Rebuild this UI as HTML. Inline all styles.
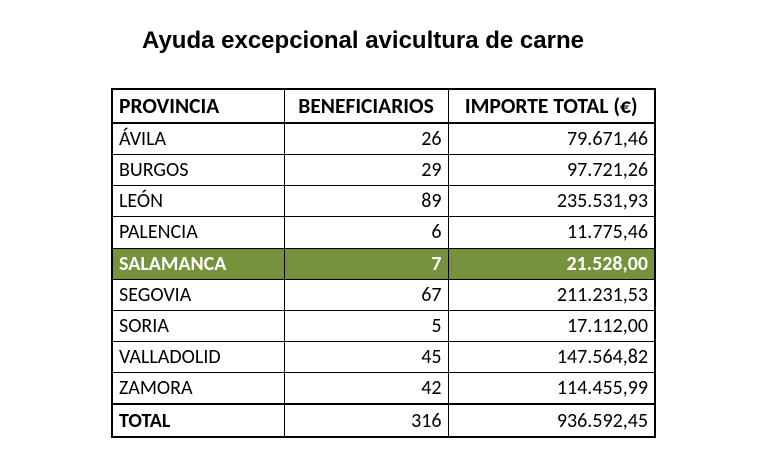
<!DOCTYPE html>
<html><head><style>
body{margin:0;width:784px;height:476px;background:#fff;position:relative;overflow:hidden;font-family:"Liberation Sans",Arial,sans-serif}
.t{position:absolute;left:0;width:726px;top:27px;text-align:center;font-weight:bold;font-size:24px;color:#000}
table{position:absolute;left:111px;top:88px;border-collapse:collapse;font-family:Carlito,Calibri,"Liberation Sans",sans-serif;font-size:20px;color:#000}
td{border:1px solid #000;padding:0 6px;height:30px;box-sizing:border-box;line-height:30px;white-space:nowrap}
td:nth-child(1){width:172px}
td:nth-child(2){width:164px;text-align:right}
td:nth-child(3){width:207px;text-align:right}
tr.h td{font-weight:bold;font-size:21.5px;height:34px;text-align:center;border-top:2px solid #000;border-bottom:2px solid #000;padding:0 4px}
tr.h td:nth-child(1){text-align:left;padding-left:6px}
tr.r td{height:31.2px}
tr.g td{background:#76923c;color:#fff;font-weight:bold;height:31.2px}
tr.tot td{border-top:2px solid #000;height:33px}
tr.tot td:first-child{font-weight:bold}
table{border:2px solid #000}
</style></head><body>
<div class="t">Ayuda excepcional avicultura de carne</div>
<table>
<tr class="h"><td>PROVINCIA</td><td>BENEFICIARIOS</td><td>IMPORTE TOTAL (€)</td></tr>
<tr class="r"><td>ÁVILA</td><td>26</td><td>79.671,46</td></tr>
<tr class="r"><td>BURGOS</td><td>29</td><td>97.721,26</td></tr>
<tr class="r"><td>LEÓN</td><td>89</td><td>235.531,93</td></tr>
<tr class="r"><td>PALENCIA</td><td>6</td><td>11.775,46</td></tr>
<tr class="g"><td>SALAMANCA</td><td>7</td><td>21.528,00</td></tr>
<tr class="r"><td>SEGOVIA</td><td>67</td><td>211.231,53</td></tr>
<tr class="r"><td>SORIA</td><td>5</td><td>17.112,00</td></tr>
<tr class="r"><td>VALLADOLID</td><td>45</td><td>147.564,82</td></tr>
<tr class="r"><td>ZAMORA</td><td>42</td><td>114.455,99</td></tr>
<tr class="tot"><td>TOTAL</td><td>316</td><td>936.592,45</td></tr>
</table>
</body></html>
